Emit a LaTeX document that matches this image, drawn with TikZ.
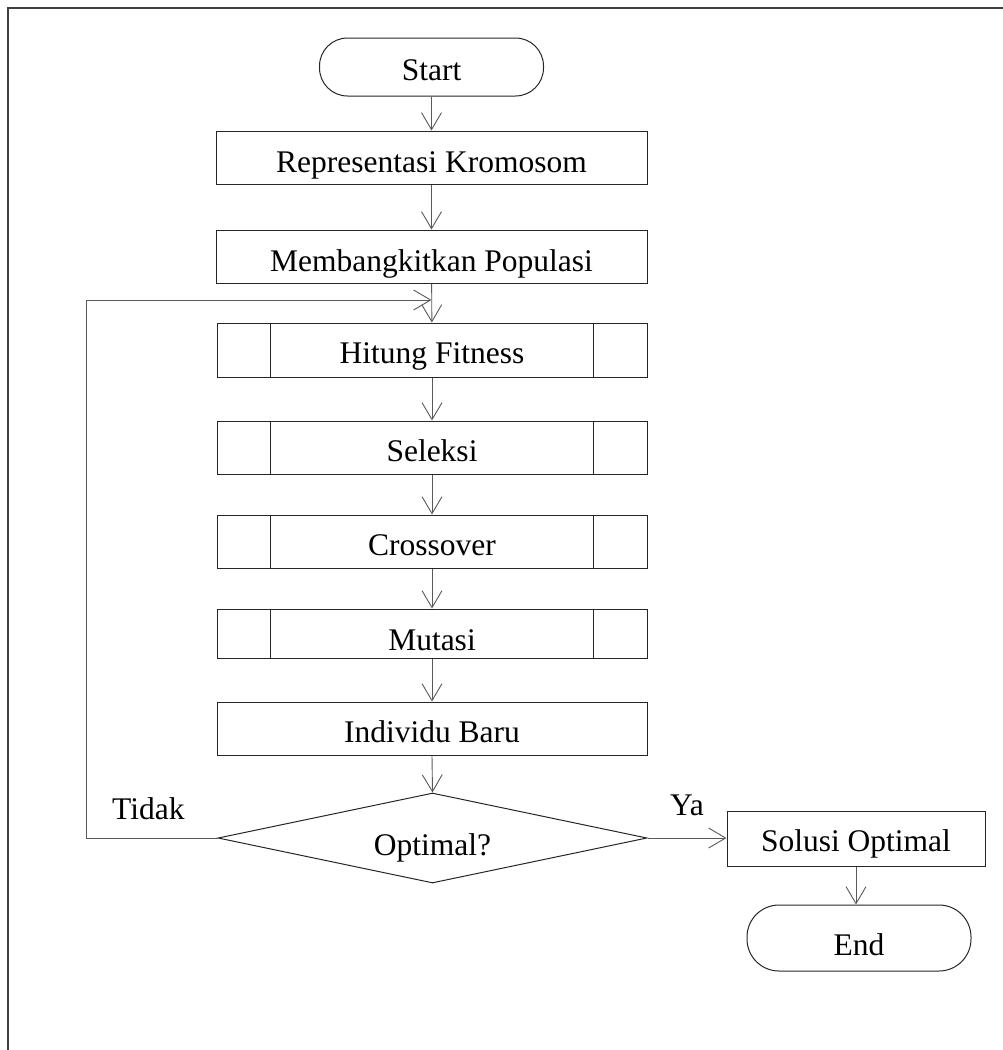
\documentclass[tikz,border=0pt]{standalone}
\usepackage{fontspec}
\setmainfont{Liberation Serif}
\usetikzlibrary{arrows.meta,shapes.geometric}
\begin{document}
\begin{tikzpicture}[x=1pt,y=-1pt,
  every node/.style={font=\fontsize{31.5}{36}\selectfont, inner sep=0pt},
  box/.style={draw=black!85, line width=1pt, minimum width=431pt, minimum height=53pt, text height=29pt, text depth=0pt},
  term/.style={draw=black!85, line width=1pt, rounded corners=28pt, minimum width=224pt, minimum height=58pt, text height=26pt, text depth=0pt},
  dec/.style={draw=black!85, line width=1pt, diamond, shape aspect=4.78, minimum width=429pt, minimum height=90pt, text height=34pt, text depth=0pt},
  conn/.style={draw=black!65, line width=0.9pt, -{Straight Barb[length=17pt,width=20pt,line width=0.9pt]}},
  lbl/.style={anchor=base west}
]
\useasboundingbox (0,0) rectangle (1003,1050);
\draw[line width=2pt, black!75] (8,1050) -- (8,8) -- (1003,8);

\node[term] (start) at (431.5,67) {Start};
\node[box] (repr) at (431.5,157.5) {Representasi Kromosom};
\node[box] (memb) at (431.5,256.5) {Membangkitkan Populasi};
\node[box, minimum width=430pt, minimum height=54pt, text height=26pt] (hit) at (432,350) {Hitung Fitness};
\node[box, minimum width=430pt, text height=27pt] (sel) at (432,447.5) {Seleksi};
\node[box, minimum width=430pt, text height=27pt] (cross) at (432,541.5) {Crossover};
\node[box, minimum width=430pt, minimum height=49pt, text height=33pt] (mut) at (432,633.5) {Mutasi};
\node[box, minimum width=430pt, text height=27pt] (ind) at (432,728.5) {Individu Baru};
\node[dec] (opt) at (432.5,838) {Optimal?};
\node[box, minimum width=258pt, minimum height=55pt, text height=25pt] (sol) at (856,838.5) {Solusi Optimal};
\node[term, rounded corners=32pt, minimum height=66pt, text height=34pt] (end) at (859,938) {End};

\foreach \n in {hit,sel,cross,mut}{
  \draw[black!85, line width=1pt] ([xshift=54pt]\n.north west) -- ([xshift=54pt]\n.south west);
  \draw[black!85, line width=1pt] ([xshift=-54pt]\n.north east) -- ([xshift=-54pt]\n.south east);
}

\node[lbl] (tidak) at (112,819) {Tidak};
\node[lbl] (ya) at (670,815) {Ya};

\coordinate (loopc) at (86,300);
\coordinate (loopin) at (431.5,300);

\draw[conn] (start) -- (repr);
\draw[conn] (repr) -- (memb);
\draw[conn] (memb) -- (hit);
\draw[conn] (hit) -- (sel);
\draw[conn] (sel) -- (cross);
\draw[conn] (cross) -- (mut);
\draw[conn] (mut) -- (ind);
\draw[conn] (ind.south) -- (opt.north);
\draw[conn] (opt.west) -| (loopc) -- (loopin);
\draw[conn] (opt.east) -- (opt.east -| sol.west);
\draw[conn] (sol.south) -- (sol.south |- end.north);
\end{tikzpicture}
\end{document}
